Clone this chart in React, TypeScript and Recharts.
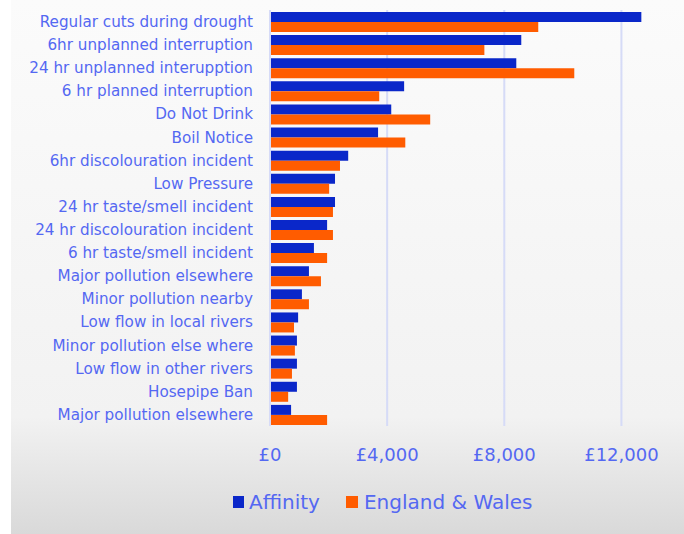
import React from 'react';
import { BarChart, Bar, XAxis, YAxis, CartesianGrid, Legend } from 'recharts';

const categories = [
  'Regular cuts during drought',
  '6hr unplanned interruption',
  '24 hr unplanned interupption',
  '6 hr planned interruption',
  'Do Not Drink',
  'Boil Notice',
  '6hr discolouration incident',
  'Low Pressure',
  '24 hr taste/smell incident',
  '24 hr discolouration incident',
  '6 hr taste/smell incident',
  'Major pollution elsewhere',
  'Minor pollution nearby',
  'Low flow in local rivers',
  'Minor pollution else where',
  'Low flow in other rivers',
  'Hosepipe Ban',
  'Major pollution elsewhere ',
];

const affinity = [12680, 8580, 8410, 4580, 4140, 3690, 2670, 2220, 2220, 1950, 1500, 1330, 1090, 960, 920, 920, 920, 720];
const englandWales = [9160, 7320, 10390, 3730, 5470, 4620, 2390, 2020, 2150, 2150, 1950, 1740, 1330, 820, 850, 750, 620, 1950];

const xTicks = [0, 4000, 8000, 12000];

const data = categories.map((name, i) => ({
  name,
  affinity: affinity[i],
  englandWales: englandWales[i],
}));

const TEXT = '#5468f2';
const BLUE = '#0a27c9';
const ORANGE = '#ff5c00';
const GRID = '#d6dbf7';
const FONT = '"DejaVu Sans", sans-serif';

const renderLegend = () => (
  <div
    style={{
      height: 58,
      display: 'flex',
      alignItems: 'center',
      paddingLeft: 222,
      paddingBottom: 6,
      boxSizing: 'border-box',
      fontFamily: FONT,
      fontSize: 20,
      color: TEXT,
    }}
  >
    <span style={{ width: 11, height: 12, background: BLUE, marginRight: 5 }} />
    <span style={{ marginRight: 26 }}>Affinity</span>
    <span style={{ width: 12, height: 12, background: ORANGE, marginRight: 6 }} />
    <span>England &amp; Wales</span>
  </div>
);

export default function App() {
  return (
    <div style={{ position: 'fixed', left: 0, top: 0, width: 684, height: 534, background: '#ffffff' }}>
      <div
        style={{
          position: 'absolute',
          left: 11,
          top: 0,
          width: 673,
          height: 534,
          background: 'linear-gradient(to bottom, #fbfbfb 0%, #f2f2f2 78%, #d9d9d9 100%)',
        }}
      >
        <BarChart
          width={673}
          height={534}
          data={data}
          layout="vertical"
          margin={{ top: 10, right: 4, left: 0, bottom: 0 }}
          barCategoryGap={2}
          barGap={0}
        >
          <CartesianGrid horizontal={false} stroke={GRID} strokeWidth={2} verticalValues={[4000, 8000, 12000]} />
          <XAxis
            type="number"
            domain={[0, 14000]}
            ticks={xTicks}
            tickFormatter={(v: number) => `£${v.toLocaleString('en-GB')}`}
            axisLine={false}
            tickLine={false}
            tickSize={0}
            tickMargin={22}
            height={50}
            tick={{ fill: TEXT, fontSize: 18, fontFamily: FONT }}
          />
          <YAxis
            type="category"
            dataKey="name"
            width={259}
            interval={0}
            axisLine={{ stroke: GRID, strokeWidth: 2 }}
            tickLine={false}
            tickSize={0}
            tickMargin={17}
            tick={{ fill: TEXT, fontSize: 15.2, fontFamily: FONT }}
          />
          <Legend verticalAlign="bottom" content={renderLegend} />
          <Bar dataKey="affinity" name="Affinity" fill={BLUE} isAnimationActive={false} />
          <Bar dataKey="englandWales" name="England & Wales" fill={ORANGE} isAnimationActive={false} />
        </BarChart>
      </div>
    </div>
  );
}
